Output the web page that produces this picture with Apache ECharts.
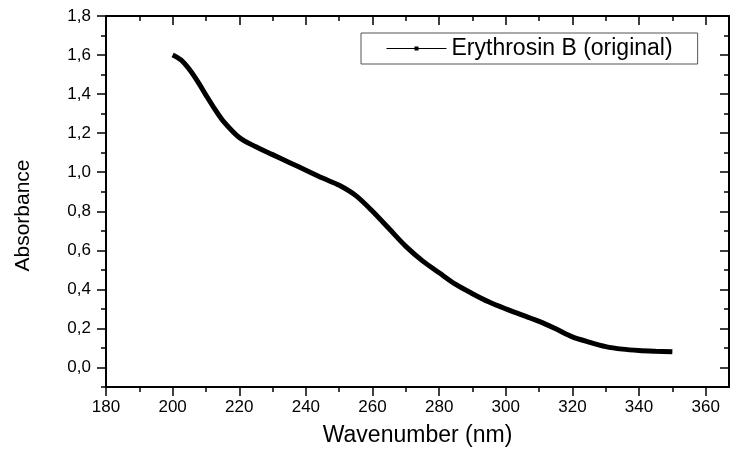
<!DOCTYPE html>
<html>
<head>
<meta charset="utf-8">
<script src="https://cdn.jsdelivr.net/npm/echarts@6/dist/echarts.min.js"></script>
<style>
    html, body { margin: 0; padding: 0; background: #fff; }
    #chart { width: 731px; height: 452px; }
</style>
</head>
<body>
<div id="chart"></div>
<script>
// 数据
const wavelengths = [200, 202.5, 205, 207.5, 210, 212.5, 215, 220, 225, 230, 235, 240, 245, 250, 255, 260, 265, 270, 275,
    280, 285, 290, 295, 300, 305, 310, 315, 320, 325, 330, 335, 340, 345, 350];
const absorbance = [1.60, 1.575, 1.527, 1.465, 1.395, 1.327, 1.266, 1.178, 1.13, 1.09, 1.05, 1.01, 0.97, 0.933, 0.88, 0.80, 0.71, 0.62, 0.546,
    0.485, 0.425, 0.378, 0.335, 0.30, 0.268, 0.236, 0.198, 0.157, 0.13, 0.107, 0.094, 0.087, 0.083, 0.08];
const seriesName = "Erythrosin B (original)";

// 刻度
const xMajorTicks = [180, 200, 220, 240, 260, 280, 300, 320, 340, 360];
const xMinorTicks = [190, 210, 230, 250, 270, 290, 310, 330, 350];
const yMajorTicks = [0, 0.2, 0.4, 0.6, 0.8, 1.0, 1.2, 1.4, 1.6, 1.8];
const yMinorTicks = [-0.1, 0.1, 0.3, 0.5, 0.7, 0.9, 1.1, 1.3, 1.5, 1.7];

const X_MIN = 180, X_MAX = 367;
const Y_MIN = -0.1, Y_MAX = 1.8;
const FONT = "'Liberation Sans', Arial, sans-serif";

renderChart();

function makeXAxis(pos, ticks, len, inside, withLabel, showLine) {
    return {
        type: 'value',
        position: pos,
        min: X_MIN,
        max: X_MAX,
        axisLine: {show: showLine, onZero: false, lineStyle: {color: '#000', width: 2}},
        axisTick: {show: true, customValues: ticks, length: len, inside: inside, lineStyle: {color: '#000', width: 1.5}},
        axisLabel: {show: withLabel, customValues: ticks, margin: 12, color: '#000', fontSize: 17, fontFamily: FONT},
        splitLine: {show: false}
    };
}

function makeYAxis(pos, ticks, len, inside, withLabel, showLine) {
    return {
        type: 'value',
        position: pos,
        min: Y_MIN,
        max: Y_MAX,
        axisLine: {show: showLine, onZero: false, lineStyle: {color: '#000', width: 2}},
        axisTick: {show: true, customValues: ticks, length: len, inside: inside, lineStyle: {color: '#000', width: 1.5}},
        axisLabel: {
            show: withLabel, customValues: ticks, margin: 15, color: '#000', fontSize: 17, fontFamily: FONT,
            formatter: function (v) {
                return v.toFixed(1).replace('.', ',');
            }
        },
        splitLine: {show: false}
    };
}

function renderChart() {
    let chart = echarts.init(document.getElementById("chart"));

    let xBottom = makeXAxis('bottom', xMajorTicks, 9, false, true, true);
    xBottom.name = 'Wavenumber (nm)';
    xBottom.nameLocation = 'middle';
    xBottom.nameGap = 37;
    xBottom.nameTextStyle = {color: '#000', fontSize: 23, fontFamily: FONT};

    let yLeft = makeYAxis('left', yMajorTicks, 9, false, true, true);
    yLeft.name = 'Absorbance';
    yLeft.nameLocation = 'middle';
    yLeft.nameGap = 72;
    yLeft.nameRotate = 90;
    yLeft.nameTextStyle = {color: '#000', fontSize: 21, fontFamily: FONT, padding: [0, 28, 0, 0]};

    let option = {
        backgroundColor: '#fff',
        animation: false,
        grid: {left: 106, right: 2, top: 16, bottom: 65},
        legend: {
            left: 361,
            top: 33,
            padding: [4, 25, 4, 25],
            borderColor: '#555',
            borderWidth: 1,
            itemWidth: 60,
            itemHeight: 5,
            lineStyle: {width: 1, color: '#000'},
            itemStyle: {color: '#000'},
            textStyle: {color: '#000', fontSize: 23, fontFamily: FONT},
            data: [seriesName]
        },
        xAxis: [
            xBottom,
            makeXAxis('bottom', xMinorTicks, 5, false, false, false),
            makeXAxis('top', xMajorTicks, 9, true, false, true),
            makeXAxis('top', xMinorTicks, 5, true, false, false)
        ],
        yAxis: [
            yLeft,
            makeYAxis('left', yMinorTicks, 5, false, false, false),
            makeYAxis('right', yMajorTicks, 9, true, false, true),
            makeYAxis('right', yMinorTicks, 5, true, false, false)
        ],
        series: [{
            name: seriesName,
            type: 'line',
            xAxisIndex: 0,
            yAxisIndex: 0,
            data: wavelengths.map(function (w, i) {
                return [w, absorbance[i]];
            }),
            smooth: 0.3,
            symbol: 'rect',
            symbolSize: 4,
            showSymbol: false,
            lineStyle: {color: '#000', width: 5},
            itemStyle: {color: '#000'}
        }]
    };

    chart.setOption(option);
}
</script>
</body>
</html>
